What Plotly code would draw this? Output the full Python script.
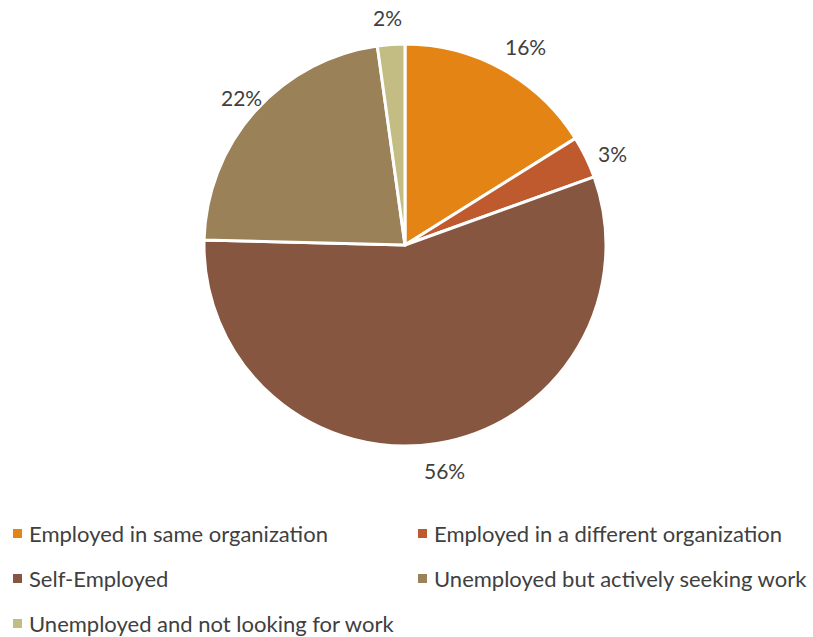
import math
import plotly.graph_objects as go

categories = [
    "Employed in same organization",
    "Employed in a different organization",
    "Self-Employed",
    "Unemployed but actively seeking work",
    "Unemployed and not looking for work",
]
shares = [16.1, 3.4, 55.9, 22.4, 2.2]
colors = ["#E38414", "#BE5A2D", "#875640", "#9A8157", "#C3BC83"]

W, H = 813, 637
cx, cy, r = 405, 245, 201  # pie centre and radius in pixels
FONT = "Lato"
TXT = "#404040"

fig = go.Figure(
    go.Pie(
        labels=categories,
        values=shares,
        sort=False,
        direction="clockwise",
        rotation=0,
        marker=dict(colors=colors, line=dict(color="white", width=3)),
        textinfo="none",
        hoverinfo="label+percent",
        showlegend=False,
        domain=dict(x=[(cx - r) / W, (cx + r) / W], y=[1 - (cy + r) / H, 1 - (cy - r) / H]),
    )
)

# Percentage labels placed just outside each slice's mid angle
total = sum(shares)
cum = 0.0
for v in shares:
    mid = (cum + v / 2) / total * 2 * math.pi
    cum += v
    px = cx + (r + 48) * math.sin(mid)
    py = cy - (r + 42) * math.cos(mid)
    fig.add_annotation(
        x=px / W, y=1 - py / H, xref="paper", yref="paper",
        text=f"{v / total:.0%}", showarrow=False,
        font=dict(family=FONT, size=21, color=TXT),
    )

# Two-column legend below the pie
col_x = [13, 418]
row_y = [533, 578, 623]
for i, (name, c) in enumerate(zip(categories, colors)):
    mx = col_x[i % 2]
    my = row_y[i // 2]
    fig.add_shape(
        type="rect", xref="paper", yref="paper",
        x0=mx / W, x1=(mx + 9) / W, y0=1 - (my + 5) / H, y1=1 - (my - 4) / H,
        fillcolor=c, line=dict(width=0),
    )
    fig.add_annotation(
        x=(mx + 14) / W, y=1 - my / H, xref="paper", yref="paper",
        xanchor="left", yanchor="middle", text=name, showarrow=False,
        font=dict(family=FONT, size=22, color=TXT),
    )

fig.update_layout(
    width=W, height=H,
    margin=dict(l=0, r=0, t=0, b=0),
    paper_bgcolor="white", plot_bgcolor="white",
)

fig.write_html("out.html")
